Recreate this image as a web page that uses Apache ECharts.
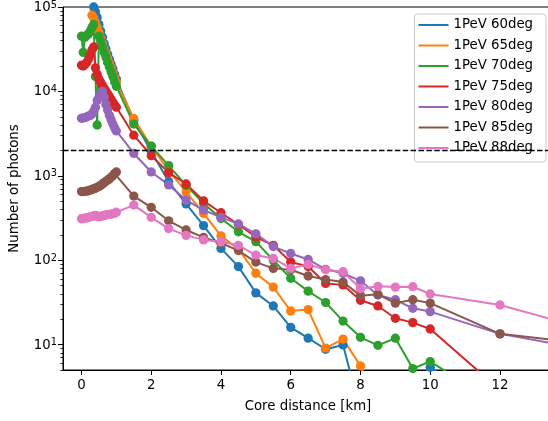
<!DOCTYPE html>
<html>
<head>
<meta charset="utf-8">
<script src="https://cdn.jsdelivr.net/npm/echarts@6/dist/echarts.min.js"></script>
<style>
html,body{margin:0;padding:0;background:#fff;}
#chart{width:548px;height:421px;}
</style>
</head>
<body>
<div id="chart"></div>
<script>
// Core distance [km]
const distance = [0, 0.05, 0.1, 0.15, 0.2, 0.25, 0.3, 0.35, 0.4, 0.45, 0.5, 0.55, 0.6, 0.65, 0.7, 0.75, 0.8, 0.85, 0.9, 0.95, 1.0,
  1.5, 2, 2.5, 3, 3.5, 4, 4.5, 5, 5.5, 6, 6.5, 7, 7.5, 8, 8.5, 9, 9.5, 10, 12, 14];

// Number of photons per series
const photons60 = [300000, 260000, 220000, 190000, 160000, 140000, 118000, 100000, 88000, 75000, 62000, 52000, 44000, 37000, 32000, 27500, 24000, 21000, 18500, 16000, 14000,
  4500, 1950, 850, 465, 257, 138, 84, 41, 28.7, 16, 11.9, 8.8, 9.9, 1.6, 2.5, 2.2, 3, 5.4, 1.5, 0.8];
const photons65 = [250000, 210000, 180000, 150000, 125000, 105000, 80000, 74000, 66000, 58000, 50000, 43000, 37000, 32000, 28000, 24500, 21500, 19000, 16500, 14500, 12800,
  4780, 2240, 1150, 645, 359, 194, 135, 70, 48, 25, 26, 9.1, 11.6, 5.6, 2, 1.5, 1.2, 1, 0.8, 0.6];
const photons70 = [45000, 29000, 44000, 46000, 48000, 52000, 57000, 62000, 15000, 4000, 45000, 39000, 34000, 29000, 25500, 22000, 19500, 17000, 15000, 13000, 11500,
  4100, 2250, 1320, 770, 470, 313, 217, 166, 100, 61, 43, 31.5, 19, 12.2, 9.8, 11.9, 5.2, 6.3, 1.9, 0.6];
const photons75 = [20400, 20000, 20800, 22000, 24000, 27000, 31000, 33600, 19000, 16000, 14000, 12800, 11800, 10900, 10100, 9400, 8700, 8000, 7400, 6900, 6500,
  3030, 1730, 1090, 800, 505, 365, 265, 188, 150, 95, 84, 53, 51, 33.5, 28.7, 20.5, 18.2, 15.3, 2.9, 0.8];
const photons80 = [4800, 4850, 4900, 5000, 5100, 5200, 5400, 5800, 6500, 7800, 8500, 9500, 10000, 8500, 7000, 6000, 5200, 4600, 4100, 3700, 3400,
  1840, 1110, 780, 515, 393, 322, 269, 205, 145, 120, 102, 78, 70, 57, 38.7, 34, 26.9, 24.6, 13.4, 9.5];
const photons85 = [650, 650, 655, 660, 665, 675, 690, 700, 715, 730, 750, 770, 800, 830, 860, 890, 920, 960, 1000, 1060, 1110,
  575, 423, 293, 228, 186, 160, 130, 95, 80, 77, 65, 59, 55, 38, 39.5, 31, 34, 31, 13.4, 10.8];
const photons88 = [310, 312, 315, 318, 322, 326, 330, 335, 340, 332, 326, 330, 336, 340, 344, 347, 350, 352, 355, 358, 370,
  450, 322, 237, 197, 174, 165, 150, 115, 105, 80, 89, 77, 73, 46, 49, 48, 48.5, 39.8, 29.5, 17.4];

const seriesNames = ['1PeV 60deg', '1PeV 65deg', '1PeV 70deg', '1PeV 75deg', '1PeV 80deg', '1PeV 85deg', '1PeV 88deg'];
const seriesValues = [photons60, photons65, photons70, photons75, photons80, photons85, photons88];
const colors = ['#1f77b4', '#ff7f0e', '#2ca02c', '#d62728', '#9467bd', '#8c564b', '#e377c2'];

const xTicks = [0, 2, 4, 6, 8, 10, 12];
const yTicks = [10, 100, 1000, 10000, 100000];
const threshold = 2000;

const yMinorTicks = [];
[1, 10, 100, 1000, 10000].forEach(d => { for (let m = 2; m <= 9; m++) { const v = m * d; if (v >= 5 && v <= 100000) yMinorTicks.push(v); } });

const FONT = 'DejaVu Sans';
const chart = echarts.init(document.getElementById('chart'), null, {renderer: 'canvas'});

const series = seriesNames.map((name, i) => ({
  type: 'line',
  name: name,
  data: distance.map((d, j) => [d, seriesValues[i][j]]),
  symbol: 'circle',
  symbolSize: 9.3,
  showSymbol: true,
  clip: true,
  lineStyle: {width: 2, color: colors[i]},
  itemStyle: {color: colors[i]},
  emphasis: {disabled: true},
  xAxisIndex: 0,
  yAxisIndex: 0
}));
series[series.length - 1].markLine = {
  silent: true,
  symbol: ['none', 'none'],
  label: {show: false},
  lineStyle: {color: '#000', type: [5.5, 2.4], width: 1.4},
  emphasis: {disabled: true},
  data: [{yAxis: threshold}]
};

chart.setOption({
  animation: false,
  color: colors,
  grid: {left: 63, top: 7, right: -5, bottom: 51, show: true, borderColor: '#000', borderWidth: 1, backgroundColor: 'transparent', containLabel: false, outerBoundsMode: 'none'},
  legend: {
    data: seriesNames,
    orient: 'vertical',
    right: 2,
    top: 14,
    padding: [4, 13, 7, 4],
    itemGap: 6.5,
    itemWidth: 30,
    itemHeight: 14,
    icon: 'path://M0,0H30V2H0Z',
    itemTextGap: 10,
    backgroundColor: 'rgba(255,255,255,0.8)',
    borderColor: '#cccccc',
    borderWidth: 1,
    borderRadius: 3,
    textStyle: {fontFamily: FONT, fontSize: 13.3, color: '#000', lineHeight: 14},
    selectedMode: false
  },
  xAxis: {
    type: 'value',
    min: -0.53,
    max: 13.52,
    name: 'Core distance [km]',
    nameLocation: 'middle',
    nameGap: 30,
    nameTextStyle: {fontFamily: FONT, fontSize: 13.3, color: '#000', lineHeight: 14},
    axisLine: {show: true, onZero: false, lineStyle: {color: '#000', width: 1}},
    axisTick: {show: true, length: 5, lineStyle: {color: '#000', width: 1}, customValues: xTicks},
    axisLabel: {show: true, margin: 9, fontFamily: FONT, fontSize: 13.3, color: '#000', lineHeight: 14, customValues: xTicks},
    splitLine: {show: false}
  },
  yAxis: [{
    type: 'log',
    logBase: 10,
    min: 5,
    max: 100000,
    position: 'left',
    name: 'Number of photons',
    nameLocation: 'middle',
    nameRotate: 90,
    nameGap: 41,
    nameTextStyle: {fontFamily: FONT, fontSize: 13.3, color: '#000', lineHeight: 14},
    axisLine: {show: true, onZero: false, lineStyle: {color: '#000', width: 1}},
    axisTick: {show: true, length: 5, lineStyle: {color: '#000', width: 1}, customValues: yTicks},
    axisLabel: {
      show: true, margin: 6, customValues: yTicks,
      formatter: v => '{b|10}{s|' + Math.round(Math.log10(v)) + '}',
      rich: {
        b: {fontFamily: FONT, fontSize: 13.3, color: '#000', lineHeight: 14, verticalAlign: 'bottom'},
        s: {fontFamily: FONT, fontSize: 9.8, color: '#000', lineHeight: 12, verticalAlign: 'top', padding: [0, 0, 5.4, 0]}
      }
    },
    splitLine: {show: false}
  }, {
    type: 'log',
    logBase: 10,
    min: 5,
    max: 100000,
    position: 'left',
    offset: 0,
    axisLine: {show: false, onZero: false},
    axisTick: {show: true, length: 2.7, lineStyle: {color: '#000', width: 0.8}, customValues: yMinorTicks},
    axisLabel: {show: false},
    splitLine: {show: false}
  }],
  series: series
});
</script>
</body>
</html>
